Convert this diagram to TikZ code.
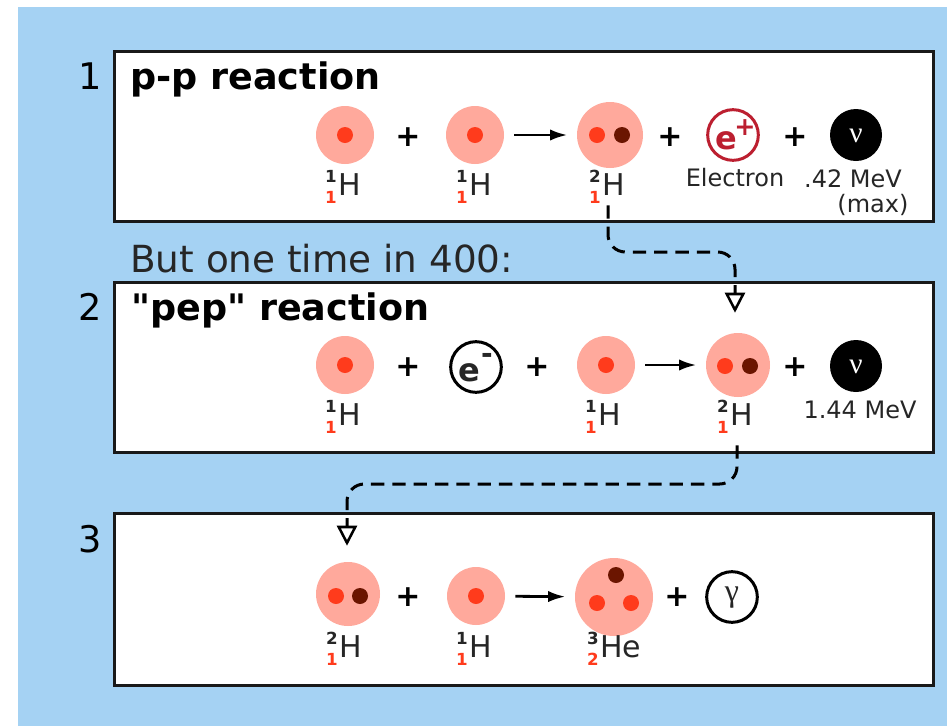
\documentclass[tikz,border=0pt]{standalone}
\usepackage{fontspec}
\setmainfont{DejaVu Sans}[Ligatures=TeXOff]
\newfontfamily\greekserif{Liberation Serif}
\usetikzlibrary{arrows.meta,calc}
\definecolor{skyb}{HTML}{A5D2F3}
\definecolor{pinkn}{HTML}{FFA99C}
\definecolor{protonc}{HTML}{FF3B1C}
\definecolor{neutronc}{HTML}{6B1500}
\definecolor{positron}{HTML}{BC1F30}
\newcommand{\fsz}[1]{\fontsize{#1}{#1}\selectfont}
\tikzset{
  x=0.75pt,y=-0.75pt,
  panel/.style={draw=black!90,line width=2.25pt,fill=white},
  nucleus/.style={circle,fill=pinkn,inner sep=0,minimum size=#1*0.75pt},
  proton/.style={circle,fill=protonc,inner sep=0,minimum size=12pt},
  neutron/.style={circle,fill=neutronc,inner sep=0,minimum size=12pt},
  ring/.style={circle,draw=black,line width=2.25pt,fill=white,inner sep=0,minimum size=38pt},
  posring/.style={ring,draw=positron},
  nuball/.style={circle,fill=black,inner sep=0,minimum size=39pt},
  title/.style={inner sep=0,anchor=base west,font=\bfseries\fsz{27.4}},
  step num/.style={inner sep=0,font=\fsz{27.5}},
  plus/.style={inner sep=0,font=\bfseries\fsz{22.5}},
  small/.style={inner sep=0,font=\fsz{18},text=black!85},
  isosym/.style={inner sep=0,anchor=west,font=\fsz{22.5},text=black!85},
  isomass/.style={inner sep=0,font=\bfseries\fsz{12.5},text=black!85},
  isoz/.style={inner sep=0,font=\bfseries\fsz{12.5},text=protonc},
  react/.style={-{Latex[length=13pt,width=8.5pt]},line width=2.1pt,shorten <=7.5pt,shorten >=7pt},
  link/.style={line width=2.25pt,dash pattern=on 10pt off 6pt,rounded corners=13pt,
    -{Triangle[open,length=15pt,width=15pt,fill=white,line width=1.9pt]}},
}
\newcommand{\iso}[6]{% x, y, mass, Z, symbol, name
  \node[isomass] (#6m) at (#1,#2-9) {#3};
  \node[isoz] (#6z) at (#1,#2+12) {#4};
  \node[isosym] (#6s) at (#1+7,#2) {#5};
}
\begin{document}
\begin{tikzpicture}
\useasboundingbox (0,0) rectangle (947,726);
\fill[white] (0,0) rectangle (947,726);
\fill[skyb] (18,7) rectangle (947,726);
\draw[panel] (114,51) rectangle (933,221);
\draw[panel] (114,282) rectangle (933,452);
\draw[panel] (114,513) rectangle (933,685);
% step numbers and titles
\node[step num] (n1) at (90,76) {1};
\node[step num] (n2) at (90,307) {2};
\node[step num] (n3) at (90,539) {3};
\node[title] (t1) at (130,89) {p-p reaction};
\node[title] (t2) at (131,320) {"pep" reaction};
\node[inner sep=0,anchor=base west,font=\fsz{28},text=black!85] (but) at (130,272) {But one time in 400:};
% panel 1
\node[nucleus=58] (a1) at (345,135) {};
\node[proton] (a1p) at (345,135) {};
\node[plus] (ap1) at (408,137) {+};
\node[nucleus=58] (a2) at (475,135) {};
\node[proton] (a2p) at (475,135) {};
\node[nucleus=66] (a3) at (610,135) {};
\node[proton] (a3p) at (597,135) {};
\node[neutron] (a3n) at (622,135) {};
\node[plus] (ap2) at (670,137) {+};
\node[posring,minimum size=38pt] (apos) at (733,135) {};
\node[inner sep=0,text=positron,font=\bfseries\fsz{24}] (ae) at (726,141) {e};
\node[inner sep=0,text=positron,font=\bfseries\fsz{19}] (aplus) at (745,128) {+};
\node[plus] (ap3) at (795,137) {+};
\node[nuball] (anu) at (856,135) {};
\node[inner sep=0,text=white,font=\greekserif\fsz{22}] (anut) at (856,136) {ν};
\node[small] (aelec) at (735,178) {Electron};
\node[small] (amev) at (853,179) {.42 MeV};
\node[small] (amax) at (873,205) {(max)};
\iso{331}{185}{1}{1}{H}{al1}
\iso{462}{185}{1}{1}{H}{al2}
\iso{595}{185}{2}{1}{H}{al3}
\draw[react] (a2) -- (a3);
% panel 2
\node[nucleus=58] (b1) at (345,365) {};
\node[proton] (b1p) at (345,365) {};
\node[plus] (bp1) at (408,367) {+};
\node[ring] (bel) at (476,367) {};
\node[inner sep=0,font=\bfseries\fsz{24},text=black!85] (be) at (469,373) {e};
\node[inner sep=0,font=\bfseries\fsz{21},text=black!85] (bminus) at (487,358) {-};
\node[plus] (bp2) at (537,367) {+};
\node[nucleus=58] (b2) at (606,365) {};
\node[proton] (b2p) at (606,365) {};
\node[nucleus=64] (b3) at (738,365) {};
\node[proton] (b3p) at (725,366) {};
\node[neutron] (b3n) at (750,366) {};
\node[plus] (bp3) at (795,367) {+};
\node[nuball] (bnu) at (856,366) {};
\node[inner sep=0,text=white,font=\greekserif\fsz{22}] (bnut) at (856,367) {ν};
\node[small] (bmev) at (860,410) {1.44 MeV};
\iso{331}{415}{1}{1}{H}{bl1}
\iso{591}{415}{1}{1}{H}{bl2}
\iso{723}{415}{2}{1}{H}{bl3}
\draw[react] (b2) -- (b3);
% panel 3
\node[nucleus=64] (c1) at (348,594) {};
\node[proton] (c1p) at (336,596) {};
\node[neutron] (c1n) at (360,596) {};
\node[plus] (cp1) at (408,597) {+};
\node[nucleus=58] (c2) at (476,596) {};
\node[proton] (c2p) at (476,596) {};
\node[nucleus=78] (c3) at (614,597) {};
\node[neutron] (c3n) at (616,575) {};
\node[proton] (c3p) at (597,603) {};
\node[proton] (c3q) at (631,603) {};
\node[plus] (cp2) at (677,597) {+};
\node[ring] (cga) at (732,597) {};
\node[inner sep=0,font=\greekserif\fsz{24},text=black!85] (cgat) at (732,598) {γ};
\iso{332}{647}{2}{1}{H}{cl1}
\iso{462}{647}{1}{1}{H}{cl2}
\iso{593}{647}{3}{2}{He}{cl3}
\draw[react] (c2) -- (c3);
% dashed links
\coordinate (k1) at (735,252);
\coordinate (k2) at (347,484);
\draw[link] ([shift={(-2,37)}]a3.south) |- (k1) -- ([shift={(-3,-20)}]b3.north);
\draw[link] ([shift={(-1,48)}]b3.south) |- (k2) -- ([shift={(-1,-16)}]c1.north);
\end{tikzpicture}
\end{document}
